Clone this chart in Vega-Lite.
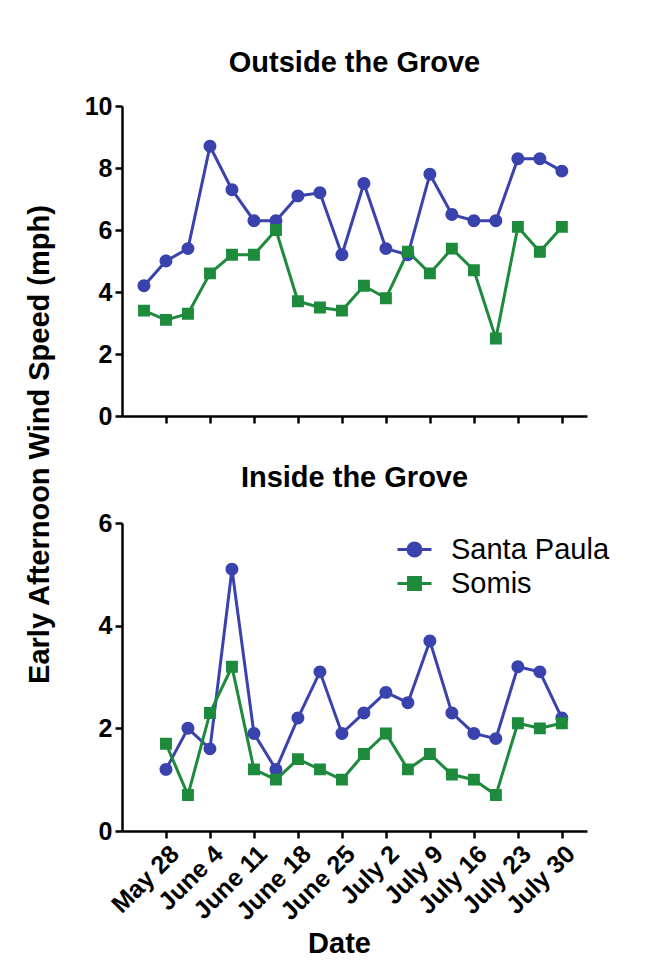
{
  "$schema": "https://vega.github.io/schema/vega-lite/v6.json",
  "background": "white",
  "padding": {"left": 25, "top": 49, "right": 10, "bottom": 15},
  "bounds": "flush",
  "spacing": 107,
  "config": {
    "font": "Liberation Sans",
    "view": {"stroke": null},
    "axis": {
      "domainColor": "black", "domainWidth": 2.5, "tickColor": "black", "tickWidth": 2.5, "tickSize": 7,
      "grid": false, "labelFont": "Liberation Sans", "labelFontWeight": "bold", "labelFontSize": 25,
      "labelColor": "black", "labelPadding": 3, "titleFont": "Liberation Sans", "titleFontWeight": "bold",
      "titleFontSize": 29, "titleColor": "black", "labelOverlap": false
    },
    "title": {"font": "Liberation Sans", "fontSize": 29, "fontWeight": "bold", "color": "black", "anchor": "middle", "baseline": "bottom"}
  },
  "datasets": {
    "outside": [
      {"date": "2015-05-24T12:00:00Z", "site": "Santa Paula", "speed": 4.2},
      {"date": "2015-05-28T00:00:00Z", "site": "Santa Paula", "speed": 5.0},
      {"date": "2015-05-31T12:00:00Z", "site": "Santa Paula", "speed": 5.4},
      {"date": "2015-06-04T00:00:00Z", "site": "Santa Paula", "speed": 8.7},
      {"date": "2015-06-07T12:00:00Z", "site": "Santa Paula", "speed": 7.3},
      {"date": "2015-06-11T00:00:00Z", "site": "Santa Paula", "speed": 6.3},
      {"date": "2015-06-14T12:00:00Z", "site": "Santa Paula", "speed": 6.3},
      {"date": "2015-06-18T00:00:00Z", "site": "Santa Paula", "speed": 7.1},
      {"date": "2015-06-21T12:00:00Z", "site": "Santa Paula", "speed": 7.2},
      {"date": "2015-06-25T00:00:00Z", "site": "Santa Paula", "speed": 5.2},
      {"date": "2015-06-28T12:00:00Z", "site": "Santa Paula", "speed": 7.5},
      {"date": "2015-07-02T00:00:00Z", "site": "Santa Paula", "speed": 5.4},
      {"date": "2015-07-05T12:00:00Z", "site": "Santa Paula", "speed": 5.2},
      {"date": "2015-07-09T00:00:00Z", "site": "Santa Paula", "speed": 7.8},
      {"date": "2015-07-12T12:00:00Z", "site": "Santa Paula", "speed": 6.5},
      {"date": "2015-07-16T00:00:00Z", "site": "Santa Paula", "speed": 6.3},
      {"date": "2015-07-19T12:00:00Z", "site": "Santa Paula", "speed": 6.3},
      {"date": "2015-07-23T00:00:00Z", "site": "Santa Paula", "speed": 8.3},
      {"date": "2015-07-26T12:00:00Z", "site": "Santa Paula", "speed": 8.3},
      {"date": "2015-07-30T00:00:00Z", "site": "Santa Paula", "speed": 7.9},
      {"date": "2015-05-24T12:00:00Z", "site": "Somis", "speed": 3.4},
      {"date": "2015-05-28T00:00:00Z", "site": "Somis", "speed": 3.1},
      {"date": "2015-05-31T12:00:00Z", "site": "Somis", "speed": 3.3},
      {"date": "2015-06-04T00:00:00Z", "site": "Somis", "speed": 4.6},
      {"date": "2015-06-07T12:00:00Z", "site": "Somis", "speed": 5.2},
      {"date": "2015-06-11T00:00:00Z", "site": "Somis", "speed": 5.2},
      {"date": "2015-06-14T12:00:00Z", "site": "Somis", "speed": 6.0},
      {"date": "2015-06-18T00:00:00Z", "site": "Somis", "speed": 3.7},
      {"date": "2015-06-21T12:00:00Z", "site": "Somis", "speed": 3.5},
      {"date": "2015-06-25T00:00:00Z", "site": "Somis", "speed": 3.4},
      {"date": "2015-06-28T12:00:00Z", "site": "Somis", "speed": 4.2},
      {"date": "2015-07-02T00:00:00Z", "site": "Somis", "speed": 3.8},
      {"date": "2015-07-05T12:00:00Z", "site": "Somis", "speed": 5.3},
      {"date": "2015-07-09T00:00:00Z", "site": "Somis", "speed": 4.6},
      {"date": "2015-07-12T12:00:00Z", "site": "Somis", "speed": 5.4},
      {"date": "2015-07-16T00:00:00Z", "site": "Somis", "speed": 4.7},
      {"date": "2015-07-19T12:00:00Z", "site": "Somis", "speed": 2.5},
      {"date": "2015-07-23T00:00:00Z", "site": "Somis", "speed": 6.1},
      {"date": "2015-07-26T12:00:00Z", "site": "Somis", "speed": 5.3},
      {"date": "2015-07-30T00:00:00Z", "site": "Somis", "speed": 6.1}
    ],
    "inside": [
      {"date": "2015-05-28T00:00:00Z", "site": "Santa Paula", "speed": 1.2},
      {"date": "2015-05-31T12:00:00Z", "site": "Santa Paula", "speed": 2.0},
      {"date": "2015-06-04T00:00:00Z", "site": "Santa Paula", "speed": 1.6},
      {"date": "2015-06-07T12:00:00Z", "site": "Santa Paula", "speed": 5.1},
      {"date": "2015-06-11T00:00:00Z", "site": "Santa Paula", "speed": 1.9},
      {"date": "2015-06-14T12:00:00Z", "site": "Santa Paula", "speed": 1.2},
      {"date": "2015-06-18T00:00:00Z", "site": "Santa Paula", "speed": 2.2},
      {"date": "2015-06-21T12:00:00Z", "site": "Santa Paula", "speed": 3.1},
      {"date": "2015-06-25T00:00:00Z", "site": "Santa Paula", "speed": 1.9},
      {"date": "2015-06-28T12:00:00Z", "site": "Santa Paula", "speed": 2.3},
      {"date": "2015-07-02T00:00:00Z", "site": "Santa Paula", "speed": 2.7},
      {"date": "2015-07-05T12:00:00Z", "site": "Santa Paula", "speed": 2.5},
      {"date": "2015-07-09T00:00:00Z", "site": "Santa Paula", "speed": 3.7},
      {"date": "2015-07-12T12:00:00Z", "site": "Santa Paula", "speed": 2.3},
      {"date": "2015-07-16T00:00:00Z", "site": "Santa Paula", "speed": 1.9},
      {"date": "2015-07-19T12:00:00Z", "site": "Santa Paula", "speed": 1.8},
      {"date": "2015-07-23T00:00:00Z", "site": "Santa Paula", "speed": 3.2},
      {"date": "2015-07-26T12:00:00Z", "site": "Santa Paula", "speed": 3.1},
      {"date": "2015-07-30T00:00:00Z", "site": "Santa Paula", "speed": 2.2},
      {"date": "2015-05-28T00:00:00Z", "site": "Somis", "speed": 1.7},
      {"date": "2015-05-31T12:00:00Z", "site": "Somis", "speed": 0.7},
      {"date": "2015-06-04T00:00:00Z", "site": "Somis", "speed": 2.3},
      {"date": "2015-06-07T12:00:00Z", "site": "Somis", "speed": 3.2},
      {"date": "2015-06-11T00:00:00Z", "site": "Somis", "speed": 1.2},
      {"date": "2015-06-14T12:00:00Z", "site": "Somis", "speed": 1.0},
      {"date": "2015-06-18T00:00:00Z", "site": "Somis", "speed": 1.4},
      {"date": "2015-06-21T12:00:00Z", "site": "Somis", "speed": 1.2},
      {"date": "2015-06-25T00:00:00Z", "site": "Somis", "speed": 1.0},
      {"date": "2015-06-28T12:00:00Z", "site": "Somis", "speed": 1.5},
      {"date": "2015-07-02T00:00:00Z", "site": "Somis", "speed": 1.9},
      {"date": "2015-07-05T12:00:00Z", "site": "Somis", "speed": 1.2},
      {"date": "2015-07-09T00:00:00Z", "site": "Somis", "speed": 1.5},
      {"date": "2015-07-12T12:00:00Z", "site": "Somis", "speed": 1.1},
      {"date": "2015-07-16T00:00:00Z", "site": "Somis", "speed": 1.0},
      {"date": "2015-07-19T12:00:00Z", "site": "Somis", "speed": 0.7},
      {"date": "2015-07-23T00:00:00Z", "site": "Somis", "speed": 2.1},
      {"date": "2015-07-26T12:00:00Z", "site": "Somis", "speed": 2.0},
      {"date": "2015-07-30T00:00:00Z", "site": "Somis", "speed": 2.1}
    ]
  },
  "vconcat": [
    {
      "width": 465,
      "height": 310,
      "title": {"text": "Outside the Grove", "offset": 16},
      "data": {"name": "outside"},
      "encoding": {
        "x": {
          "field": "date", "type": "temporal",
          "scale": {"type": "utc", "domain": [{"year": 2015, "month": 5, "date": 21, "utc": true}, {"year": 2015, "month": 8, "date": 3, "utc": true}]},
          "axis": {
            "values": [
              {"year": 2015, "month": 5, "date": 28, "utc": true}, {"year": 2015, "month": 6, "date": 4, "utc": true},
              {"year": 2015, "month": 6, "date": 11, "utc": true}, {"year": 2015, "month": 6, "date": 18, "utc": true},
              {"year": 2015, "month": 6, "date": 25, "utc": true}, {"year": 2015, "month": 7, "date": 2, "utc": true},
              {"year": 2015, "month": 7, "date": 9, "utc": true}, {"year": 2015, "month": 7, "date": 16, "utc": true},
              {"year": 2015, "month": 7, "date": 23, "utc": true}, {"year": 2015, "month": 7, "date": 30, "utc": true}
            ],
            "labels": false, "title": null
          }
        },
        "y": {
          "field": "speed", "type": "quantitative",
          "scale": {"domain": [0, 10]},
          "axis": {
            "values": [0, 2, 4, 6, 8, 10],
            "title": "Early Afternoon Wind Speed (mph)",
            "titleX": -83, "titleY": 338, "titleAngle": -90, "titleAlign": "center", "titleBaseline": "middle"
          }
        },
        "color": {
          "field": "site", "type": "nominal",
          "scale": {"domain": ["Santa Paula", "Somis"], "range": ["#3a43ad", "#1d8a3c"]},
          "legend": null
        }
      },
      "layer": [
        {"mark": {"type": "line", "strokeWidth": 3}},
        {
          "mark": {"type": "point", "filled": true, "opacity": 1, "size": 1156},
          "encoding": {
            "shape": {
              "field": "site", "type": "nominal",
              "scale": {"domain": ["Santa Paula", "Somis"], "range": ["M-1,0H1M0.38,0A0.38,0.38,0,1,1,-0.38,0A0.38,0.38,0,1,1,0.38,0Z", "M-1,0H1M-0.35,-0.35H0.35V0.35H-0.35Z"]},
              "legend": null
            }
          }
        }
      ]
    },
    {
      "width": 465,
      "height": 308,
      "title": {"text": "Inside the Grove", "offset": 18},
      "data": {"name": "inside"},
      "encoding": {
        "x": {
          "field": "date", "type": "temporal",
          "scale": {"type": "utc", "domain": [{"year": 2015, "month": 5, "date": 21, "utc": true}, {"year": 2015, "month": 8, "date": 3, "utc": true}]},
          "axis": {
            "values": [
              {"year": 2015, "month": 5, "date": 28, "utc": true}, {"year": 2015, "month": 6, "date": 4, "utc": true},
              {"year": 2015, "month": 6, "date": 11, "utc": true}, {"year": 2015, "month": 6, "date": 18, "utc": true},
              {"year": 2015, "month": 6, "date": 25, "utc": true}, {"year": 2015, "month": 7, "date": 2, "utc": true},
              {"year": 2015, "month": 7, "date": 9, "utc": true}, {"year": 2015, "month": 7, "date": 16, "utc": true},
              {"year": 2015, "month": 7, "date": 23, "utc": true}, {"year": 2015, "month": 7, "date": 30, "utc": true}
            ],
            "format": "%B %-d", "labelAngle": -45, "title": "Date", "titlePadding": 5, "titleX": 217
          }
        },
        "y": {
          "field": "speed", "type": "quantitative",
          "scale": {"domain": [0, 6]},
          "axis": {"values": [0, 2, 4, 6], "title": null}
        },
        "color": {
          "field": "site", "type": "nominal",
          "scale": {"domain": ["Santa Paula", "Somis"], "range": ["#3a43ad", "#1d8a3c"]},
          "legend": {
            "orient": "none", "legendX": 274, "legendY": 8, "title": null, "padding": 0,
            "symbolSize": 1156, "symbolStrokeWidth": 3, "labelFont": "Liberation Sans", "labelFontSize": 29,
            "labelFontWeight": "normal", "labelColor": "black", "labelOffset": 18, "rowPadding": -9,
            "encode": {
              "symbols": {
                "update": {
                  "stroke": {"signal": "datum.value === 'Santa Paula' ? '#3a43ad' : '#1d8a3c'"},
                  "strokeWidth": {"value": 3},
                  "opacity": {"value": 1}
                }
              }
            }
          }
        }
      },
      "layer": [
        {"mark": {"type": "line", "strokeWidth": 3}},
        {
          "mark": {"type": "point", "filled": true, "opacity": 1, "size": 1156},
          "encoding": {
            "shape": {
              "field": "site", "type": "nominal",
              "scale": {"domain": ["Santa Paula", "Somis"], "range": ["M-1,0H1M0.38,0A0.38,0.38,0,1,1,-0.38,0A0.38,0.38,0,1,1,0.38,0Z", "M-1,0H1M-0.35,-0.35H0.35V0.35H-0.35Z"]}
            }
          }
        }
      ]
    }
  ],
  "resolve": {
    "scale": {"x": "independent", "y": "independent", "color": "independent", "shape": "independent"},
    "legend": {"color": "independent", "shape": "independent"}
  }
}
